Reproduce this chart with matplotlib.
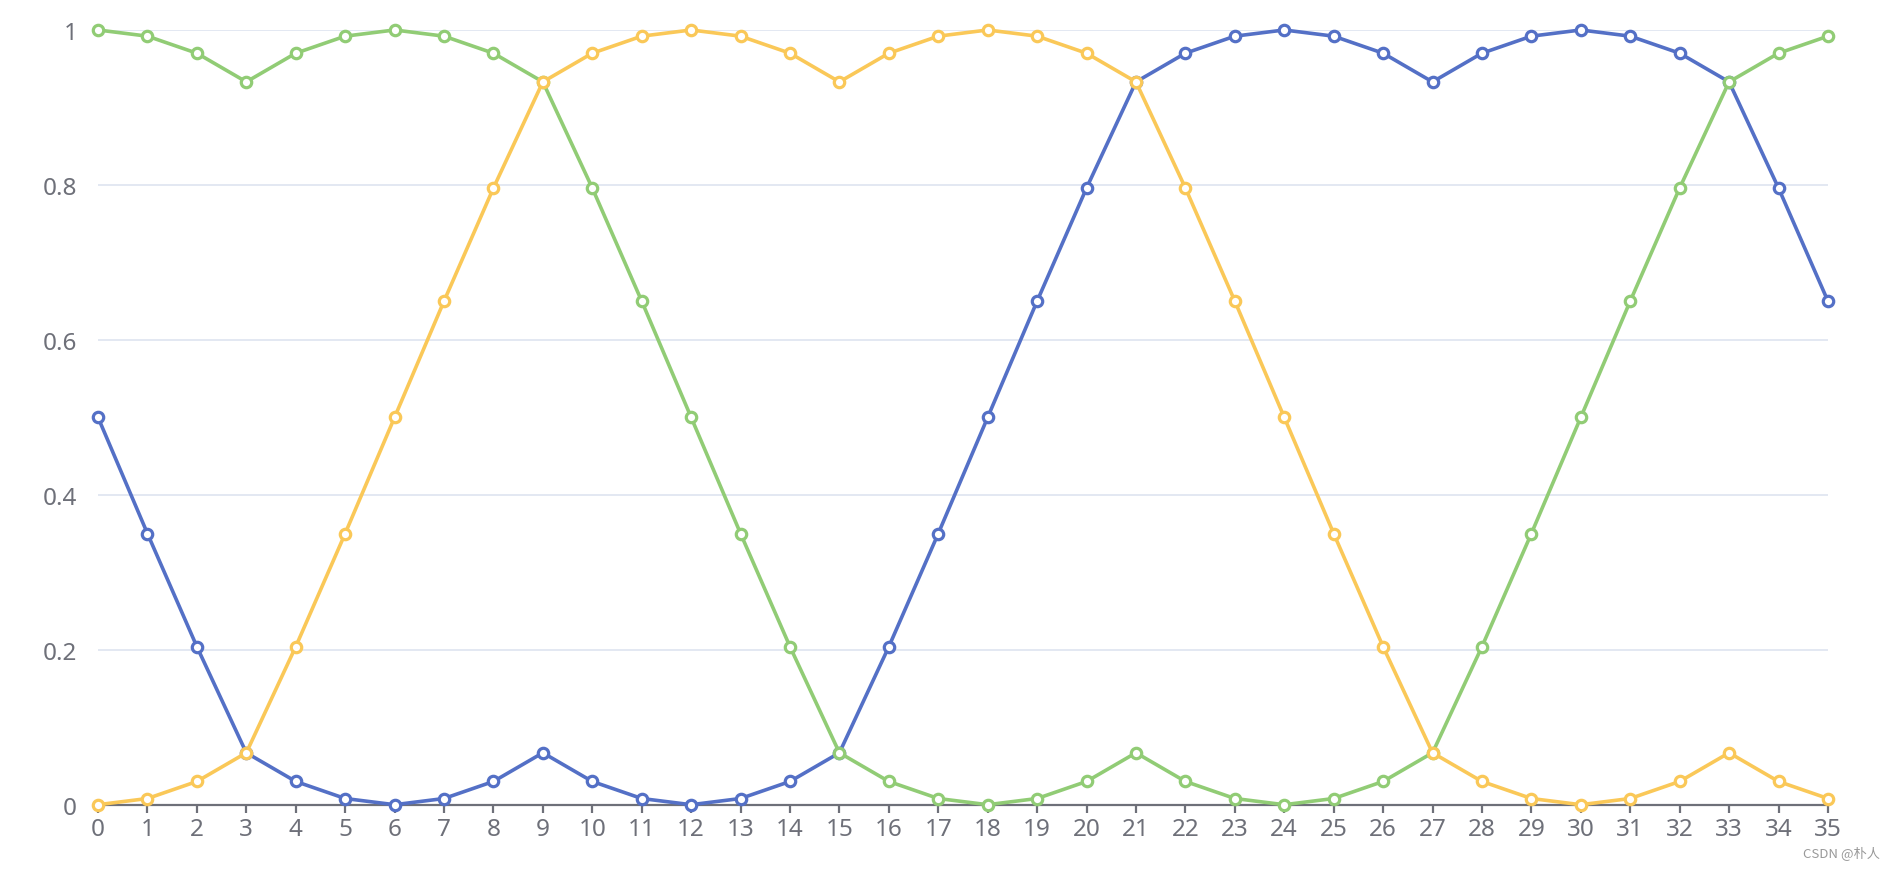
import matplotlib
matplotlib.use("Agg")
import matplotlib.pyplot as plt
from matplotlib.ticker import FuncFormatter

# x categories 0..35
x = list(range(36))

blue = [0.5, 0.35, 0.204, 0.067, 0.030, 0.008, 0.0, 0.008, 0.030, 0.067,
        0.030, 0.008, 0.0, 0.008, 0.030, 0.067, 0.204, 0.35, 0.5, 0.65,
        0.796, 0.933, 0.970, 0.992, 1.0, 0.992, 0.970, 0.933, 0.970, 0.992,
        1.0, 0.992, 0.970, 0.933, 0.796, 0.65]

green = [1.0, 0.992, 0.970, 0.933, 0.970, 0.992, 1.0, 0.992, 0.970, 0.933,
         0.796, 0.65, 0.5, 0.35, 0.204, 0.067, 0.030, 0.008, 0.0, 0.008,
         0.030, 0.067, 0.030, 0.008, 0.0, 0.008, 0.030, 0.067, 0.204, 0.35,
         0.5, 0.65, 0.796, 0.933, 0.970, 0.992]

yellow = [0.0, 0.008, 0.030, 0.067, 0.204, 0.35, 0.5, 0.65, 0.796, 0.933,
          0.970, 0.992, 1.0, 0.992, 0.970, 0.933, 0.970, 0.992, 1.0, 0.992,
          0.970, 0.933, 0.796, 0.65, 0.5, 0.35, 0.204, 0.067, 0.030, 0.008,
          0.0, 0.008, 0.030, 0.067, 0.030, 0.008]

y_ticks = [0, 0.2, 0.4, 0.6, 0.8, 1]

plt.rcParams['font.family'] = ['Noto Sans', 'DejaVu Sans']

fig = plt.figure(figsize=(18.96, 8.70), dpi=100)
ax = fig.add_axes([0.0517, 0.0739, 0.9124, 0.8905])

for vals, col in [(blue, "#5470C6"), (green, "#91CC75"), (yellow, "#FAC858")]:
    ax.plot(x, vals, color=col, lw=2.6, marker="o", markersize=7.5,
            markerfacecolor="white", markeredgecolor=col, markeredgewidth=2.3,
            solid_joinstyle="round", zorder=3, clip_on=False)

ax.set_xlim(0, 35)
ax.set_ylim(0, 1)
ax.set_xticks(x)
ax.set_yticks(y_ticks)
ax.yaxis.set_major_formatter(FuncFormatter(lambda v, p: f"{v:g}"))

ax.grid(axis="y", color="#E0E6F1", lw=1.3)
ax.set_axisbelow(True)
for s in ["top", "right", "left"]:
    ax.spines[s].set_visible(False)
ax.spines["bottom"].set_color("#6E7079")
ax.spines["bottom"].set_linewidth(1.6)

ax.tick_params(axis="x", length=6, width=1.6, color="#6E7079",
               labelcolor="#6E7079", labelsize=17.5, pad=3)
ax.tick_params(axis="y", length=0, labelcolor="#6E7079", labelsize=17.5, pad=15)

fig.text(0.9915, 0.012, "CSDN @朴人", ha="right", va="bottom", fontsize=9.5,
         color="#999999", family=["Noto Sans CJK SC", "DejaVu Sans"])

fig.savefig("out.png", dpi=100)
